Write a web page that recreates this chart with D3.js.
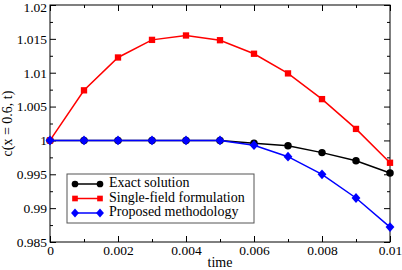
<!DOCTYPE html>
<html>
<head>
  <meta charset="utf-8">
  <script src="https://d3js.org/d3.v7.min.js"></script>
  <style>
    body { margin: 0; background: #ffffff; }
    svg { display: block; font-family: "Liberation Serif", "Times New Roman", Times, serif; }
    .axis path, .axis line { stroke: #000000; stroke-width: 1; }
    .axis text { font-size: 13.5px; fill: #000000; font-family: "Liberation Serif", "Times New Roman", Times, serif; }
    .axis-title { font-size: 14px; fill: #000000; }
    .legend_label { font-size: 14px; fill: #000000; }
  </style>
  <title>c(x = 0.6, t) vs time</title>
</head>
<body>
  <svg></svg>
  <script>
    const time = [0, 0.001, 0.002, 0.003, 0.004, 0.005, 0.006, 0.007, 0.008, 0.009, 0.01]
    const exact = [1.0, 1.0, 1.0, 1.0, 1.0, 1.0, 0.9996, 0.9992, 0.9982, 0.9970, 0.9952]
    const singleField = [1.0, 1.0074, 1.01225, 1.01485, 1.0155, 1.0148, 1.0128, 1.0099, 1.0061, 1.0017, 0.9967]
    const proposed = [1.0, 1.0, 1.0, 1.0, 1.0, 1.0, 0.9993, 0.9976, 0.9950, 0.9915, 0.9872]

    const xTicks = [0, 0.002, 0.004, 0.006, 0.008, 0.01]
    const xTickLabels = ["0", "0.002", "0.004", "0.006", "0.008", "0.01"]
    const xMinor = [0.001, 0.003, 0.005, 0.007, 0.009]
    const yTicks = [0.985, 0.99, 0.995, 1, 1.005, 1.01, 1.015, 1.02]
    const yTickLabels = ["0.985", "0.99", "0.995", "1", "1.005", "1.01", "1.015", "1.02"]
    const yMinor = [0.9875, 0.9925, 0.9975, 1.0025, 1.0075, 1.0125, 1.0175]

    const seriesNames = ["Exact solution", "Single-field formulation", "Proposed methodology"]
    const seriesColors = ["#000000", "#ff0000", "#0000ff"]
    const seriesValues = [exact, singleField, proposed]

    // squat diamond, closer to the xmgrace one than d3.symbolDiamond
    const wideDiamond = {
      draw(ctx, size) {
        const h = Math.sqrt(size / 2)
        const w = h * 0.9
        ctx.moveTo(0, -h)
        ctx.lineTo(w, 0)
        ctx.lineTo(0, h)
        ctx.lineTo(-w, 0)
        ctx.closePath()
      }
    }
    const seriesSymbols = [d3.symbolCircle, d3.symbolSquare, wideDiamond]
    const symbolSizes = [44, 40, 48]

    const width = 402
    const height = 270
    const plotLeft = 50, plotRight = 390, plotTop = 5, plotBottom = 242

    const svg = d3.select("svg")
      .attr("width", width)
      .attr("height", height)

    const x = d3.scaleLinear().domain([0, 0.01]).range([plotLeft, plotRight])
    const y = d3.scaleLinear().domain([0.985, 1.02]).range([plotBottom, plotTop])

    // frame
    svg.append("rect")
      .attr("x", plotLeft)
      .attr("y", plotTop)
      .attr("width", plotRight - plotLeft)
      .attr("height", plotBottom - plotTop)
      .attr("fill", "none")
      .attr("stroke", "#000000")
      .attr("stroke-width", 1)

    // ticks, all pointing inward on the four sides
    function tickAxis(axis, pos, values, size, labels) {
      const g = svg.append("g")
        .attr("class", "axis")
        .attr("transform", pos)
        .call(axis.tickValues(values).tickSize(-size).tickPadding(3)
          .tickFormat(labels ? (d, i) => labels[i] : ""))
      g.select(".domain").remove()
      return g
    }

    tickAxis(d3.axisBottom(x), `translate(0,${plotBottom})`, xTicks, 6, xTickLabels)
    tickAxis(d3.axisBottom(x), `translate(0,${plotBottom})`, xMinor, 3)
    tickAxis(d3.axisTop(x), `translate(0,${plotTop})`, xTicks, 6)
    tickAxis(d3.axisTop(x), `translate(0,${plotTop})`, xMinor, 3)
    tickAxis(d3.axisLeft(y), `translate(${plotLeft},0)`, yTicks, 6, yTickLabels)
      .selectAll("text")
      .attr("dy", (d, i) => i === yTicks.length - 1 ? "0.45em" : "0.32em")
    tickAxis(d3.axisLeft(y), `translate(${plotLeft},0)`, yMinor, 3)
    tickAxis(d3.axisRight(y), `translate(${plotRight},0)`, yTicks, 6)
    tickAxis(d3.axisRight(y), `translate(${plotRight},0)`, yMinor, 3)

    svg.append("text")
      .attr("class", "axis-title")
      .attr("x", (plotLeft + plotRight) / 2)
      .attr("y", 267)
      .attr("text-anchor", "middle")
      .text("time")

    svg.append("text")
      .attr("class", "axis-title")
      .attr("transform", `translate(12,${(plotTop + plotBottom) / 2}) rotate(-90)`)
      .attr("text-anchor", "middle")
      .text("c(x = 0.6, t)")

    const line = d3.line()
      .x((d, i) => x(time[i]))
      .y(d => y(d))

    seriesValues.forEach((vals, k) => {
      svg.append("path")
        .datum(vals)
        .attr("fill", "none")
        .attr("stroke", seriesColors[k])
        .attr("stroke-width", 1.5)
        .attr("d", line)

      svg.selectAll(".pt" + k)
        .data(vals)
        .enter()
        .append("path")
        .attr("class", "pt" + k)
        .attr("transform", (d, i) => `translate(${x(time[i])},${y(d)})`)
        .attr("d", d3.symbol().type(seriesSymbols[k]).size(symbolSizes[k]))
        .attr("fill", seriesColors[k])
    })

    // legend
    const legend = svg.append("g").attr("transform", "translate(67,174)")

    legend.append("rect")
      .attr("width", 187)
      .attr("height", 49)
      .attr("fill", "#ffffff")
      .attr("stroke", "#555555")
      .attr("stroke-width", 1)

    seriesNames.forEach((name, k) => {
      const ly = 10 + k * 14.5
      legend.append("line")
        .attr("x1", 8).attr("x2", 33)
        .attr("y1", ly).attr("y2", ly)
        .attr("stroke", seriesColors[k])
        .attr("stroke-width", 1.5)
      legend.selectAll(".lg" + k)
        .data([8, 33])
        .enter()
        .append("path")
        .attr("transform", d => `translate(${d},${ly})`)
        .attr("d", d3.symbol().type(seriesSymbols[k]).size(symbolSizes[k] * 0.8))
        .attr("fill", seriesColors[k])
      legend.append("text")
        .attr("class", "legend_label")
        .attr("x", 42)
        .attr("y", ly)
        .attr("dominant-baseline", "middle")
        .text(name)
    })
  </script>
</body>
</html>
